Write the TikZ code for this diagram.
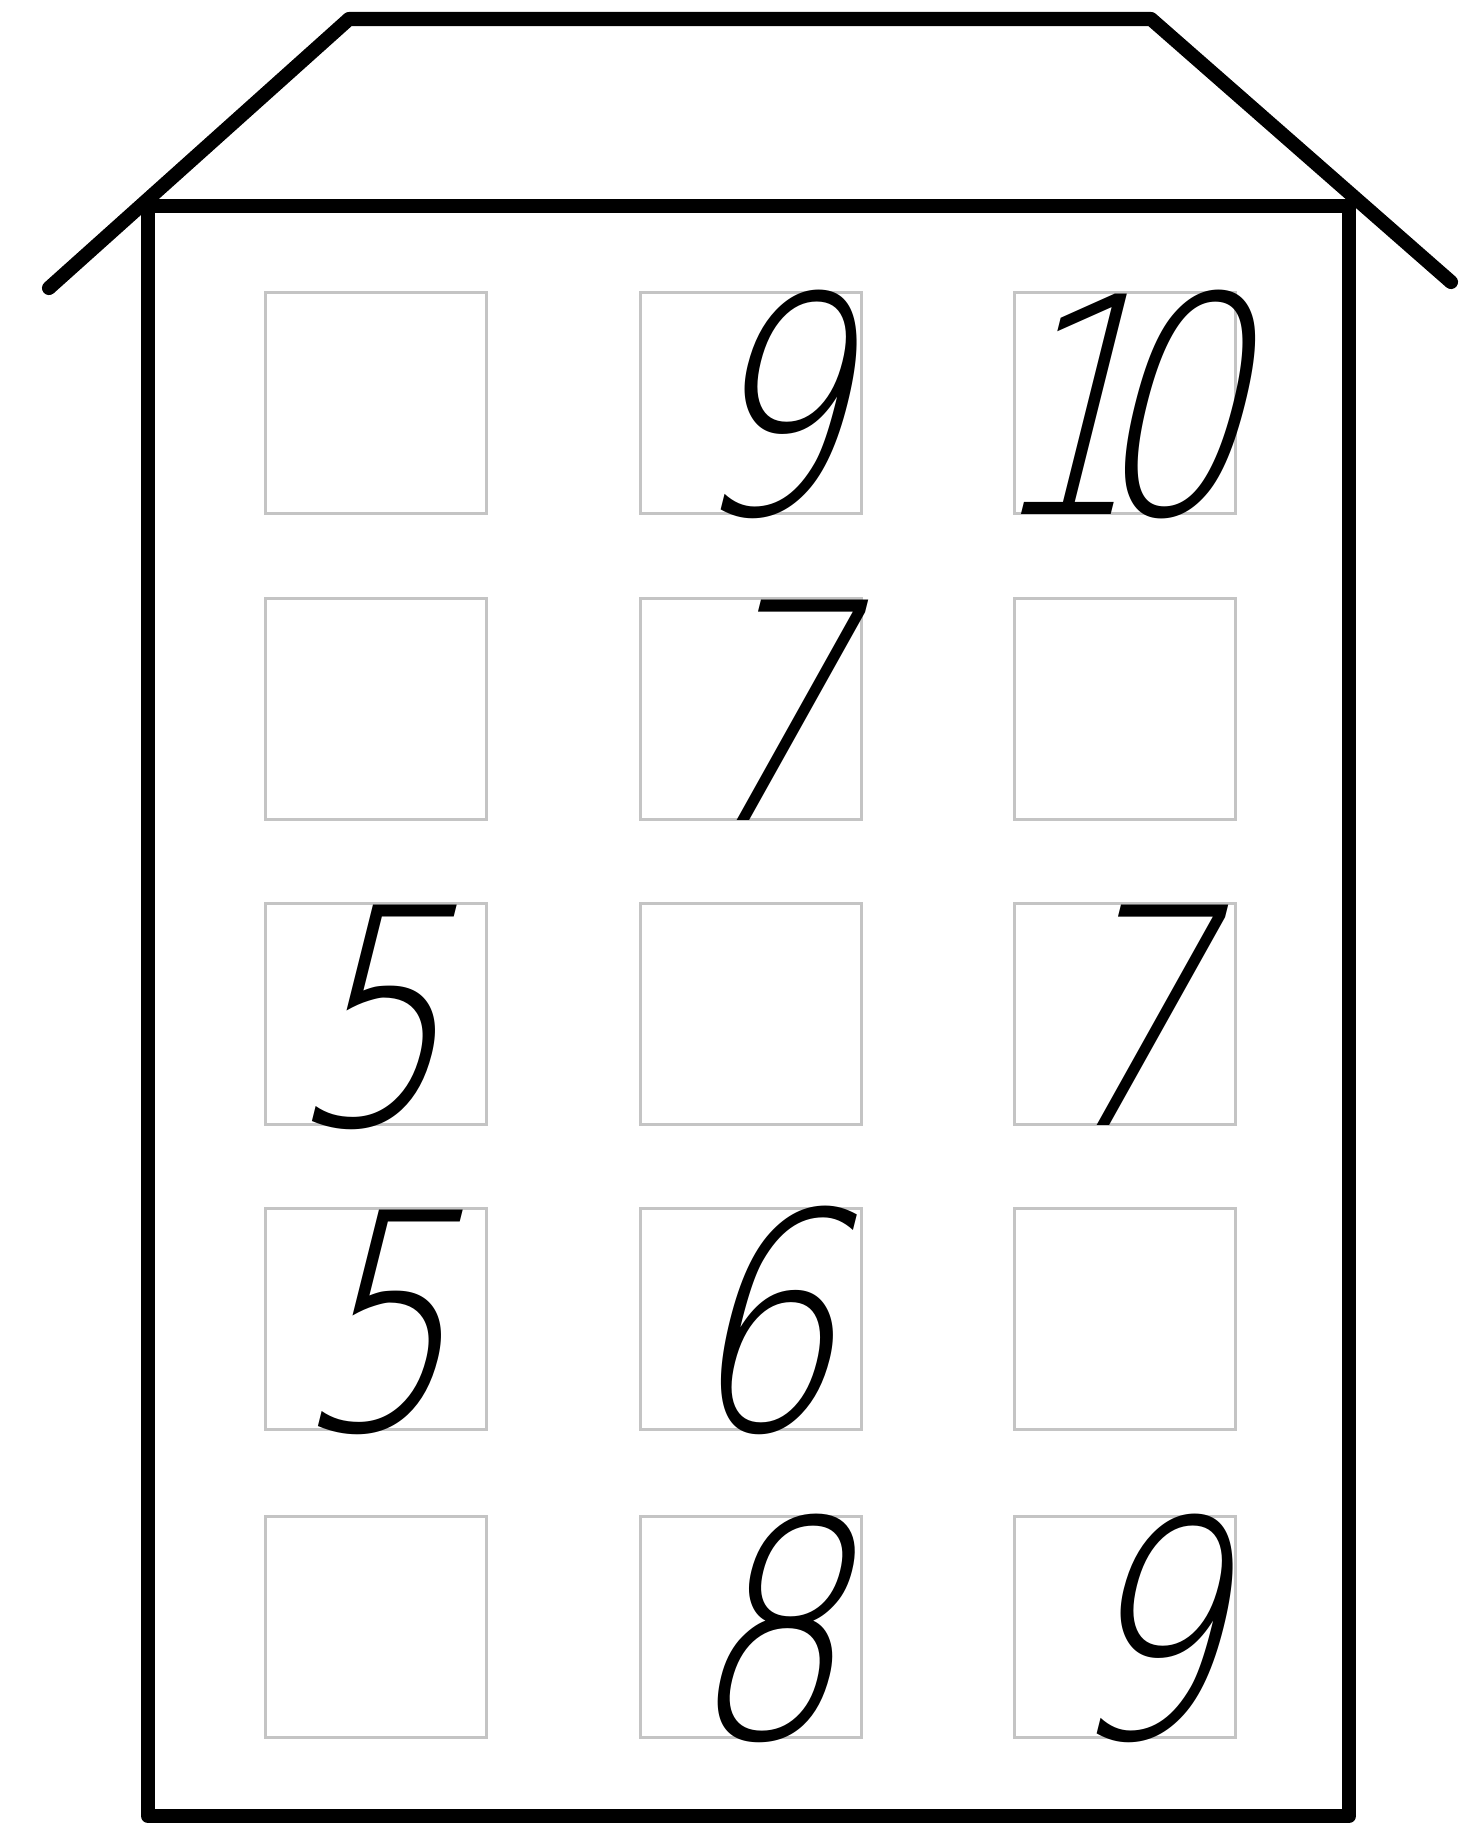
\documentclass[tikz,border=0pt]{standalone}
\usepackage{fontspec}
\usepackage{tikz}
\usetikzlibrary{positioning}
\IfFontExistsTF{DejaVu Sans ExtraLight}
  {\newfontfamily\digitfont{DejaVu Sans ExtraLight}[FakeSlant=0.25,FakeStretch=0.8]}
  {\newfontfamily\digitfont{DejaVu Sans}[FakeSlant=0.25,FakeStretch=0.8]}
\definecolor{wallblack}{RGB}{0,0,0}
\definecolor{cellgray}{RGB}{196,196,196}

\begin{document}
\begin{tikzpicture}[
  x=0.01cm, y=-0.01cm,
  wall/.style={draw=wallblack, line width=4pt, line cap=round, line join=round},
  cell/.style={draw=cellgray, line width=0.8pt, minimum size=2.21cm, inner sep=0pt},
  digit/.style={font=\digitfont\fontsize{86}{86}\selectfont, inner sep=0pt, anchor=base}
]
  \useasboundingbox (0,0) rectangle (1474,1823);

  % Roof
  \coordinate (eaveL) at (49,288);
  \coordinate (ridgeL) at (349,19);
  \coordinate (ridgeR) at (1151,19);
  \coordinate (eaveR) at (1451,282);
  \draw[wall] (eaveL) -- (ridgeL) -- (ridgeR) -- (eaveR);

  % Walls
  \draw[wall] (148,206) rectangle (1349,1816);

  % Windows
  \foreach \r/\y in {1/403,2/709,3/1014,4/1319,5/1627}
    \foreach \c/\x in {1/376,2/751,3/1125}
      \node[cell] (w\r\c) at (\x,\y) {};

  % Numbers
  \node[digit, xshift=0.13cm] (n12) at (w12.south) {9};
  \node[digit, xshift=-0.12cm] (n13) at (w13.south) {1\kern-0.52cm0};
  \node[digit, xshift=0.12cm] (n22) at (w22.south) {7};
  \node[digit, xshift=-0.12cm] (n31) at (w31.south) {5};
  \node[digit, xshift=-0.02cm] (n33) at (w33.south) {7};
  \node[digit, xshift=-0.06cm] (n41) at (w41.south) {5};
  \node[digit, xshift=0.05cm] (n42) at (w42.south) {6};
  \node[digit, xshift=0.09cm] (n52) at (w52.south) {8};
  \node[digit, xshift=0.15cm] (n53) at (w53.south) {9};
\end{tikzpicture}
\end{document}
